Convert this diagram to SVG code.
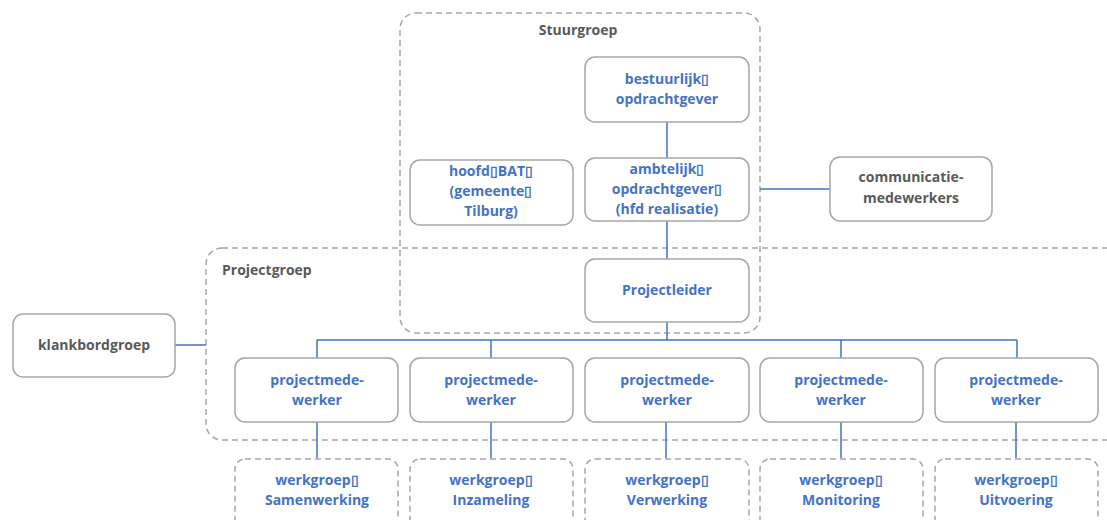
<svg xmlns="http://www.w3.org/2000/svg" width="1107" height="520" viewBox="0 0 1107 520">
<style>
.box{fill:#fff;stroke:#a6a6a6;stroke-width:1.5}
.grp{fill:none;stroke:#a6a6a6;stroke-width:1.5;stroke-dasharray:6 4}
.con{fill:none;stroke:#4472c4;stroke-width:1.5}
text{font-family:"Open Sans","Liberation Sans",sans-serif;font-weight:bold;font-size:14px;text-anchor:middle}
.b{fill:#4472c4}
.g{fill:#595959}
</style>
<rect width="1107" height="520" fill="#fff"/>
<g id="stuurgroep">
<rect class="grp" x="400" y="13" width="360" height="320" rx="16"/>
<text class="g" x="578" y="35">Stuurgroep</text>
</g>
<g id="projectgroep">
<rect class="grp" x="206" y="248" width="920" height="192" rx="16"/>
<text class="g" x="222" y="275" style="text-anchor:start">Projectgroep</text>
</g>
<g id="connectors">
<path class="con" d="M667 122V158M667 221V259M667 322V340M317 340H1017M317 340V358M491 340V358M841 340V358M1017 340V358M317 422V458M491 422V458M666 422V458M841 422V458M1016 422V458M760 189H830M175 345H206"/>
</g>
<g id="bestuurlijk">
<rect class="box" x="585" y="57" width="164" height="65" rx="10"/>
<text class="b" x="667" y="84">bestuurlijk▯</text>
<text class="b" x="667" y="104">opdrachtgever</text>
</g>
<g id="ambtelijk">
<rect class="box" x="585" y="158" width="164" height="63" rx="10"/>
<text class="b" x="667" y="174">ambtelijk▯</text>
<text class="b" x="667" y="194">opdrachtgever▯</text>
<text class="b" x="667" y="214">(hfd realisatie)</text>
</g>
<g id="hoofdbat">
<rect class="box" x="410" y="160" width="163" height="65" rx="10"/>
<text class="b" x="491" y="176">hoofd▯BAT▯</text>
<text class="b" x="491" y="196">(gemeente▯</text>
<text class="b" x="491" y="216">Tilburg)</text>
</g>
<g id="communicatie">
<rect class="box" x="830" y="157" width="162" height="64" rx="10"/>
<text class="g" x="911" y="182">communicatie-</text>
<text class="g" x="911" y="203">medewerkers</text>
</g>
<g id="projectleider">
<rect class="box" x="585" y="259" width="164" height="63" rx="10"/>
<text class="b" x="667" y="295">Projectleider</text>
</g>
<g id="klankbordgroep">
<rect class="box" x="13" y="314" width="162" height="63" rx="10"/>
<text class="g" x="94" y="350">klankbordgroep</text>
</g>
<g id="pm1"><rect class="box" x="235" y="358" width="163" height="64" rx="10"/><text class="b" x="317" y="385">projectmede-</text><text class="b" x="317" y="405">werker</text></g>
<g id="pm2"><rect class="box" x="410" y="358" width="163" height="64" rx="10"/><text class="b" x="491" y="385">projectmede-</text><text class="b" x="491" y="405">werker</text></g>
<g id="pm3"><rect class="box" x="585" y="358" width="164" height="64" rx="10"/><text class="b" x="667" y="385">projectmede-</text><text class="b" x="667" y="405">werker</text></g>
<g id="pm4"><rect class="box" x="760" y="358" width="163" height="64" rx="10"/><text class="b" x="841" y="385">projectmede-</text><text class="b" x="841" y="405">werker</text></g>
<g id="pm5"><rect class="box" x="935" y="358" width="163" height="64" rx="10"/><text class="b" x="1016" y="385">projectmede-</text><text class="b" x="1016" y="405">werker</text></g>
<g id="wg1"><rect class="grp" x="235" y="459" width="163" height="80" rx="10"/><text class="b" x="317" y="485">werkgroep▯</text><text class="b" x="317" y="505">Samenwerking</text></g>
<g id="wg2"><rect class="grp" x="410" y="459" width="163" height="80" rx="10"/><text class="b" x="491" y="485">werkgroep▯</text><text class="b" x="491" y="505">Inzameling</text></g>
<g id="wg3"><rect class="grp" x="585" y="459" width="164" height="80" rx="10"/><text class="b" x="667" y="485">werkgroep▯</text><text class="b" x="667" y="505">Verwerking</text></g>
<g id="wg4"><rect class="grp" x="760" y="459" width="163" height="80" rx="10"/><text class="b" x="841" y="485">werkgroep▯</text><text class="b" x="841" y="505">Monitoring</text></g>
<g id="wg5"><rect class="grp" x="935" y="459" width="163" height="80" rx="10"/><text class="b" x="1016" y="485">werkgroep▯</text><text class="b" x="1016" y="505">Uitvoering</text></g>
</svg>
